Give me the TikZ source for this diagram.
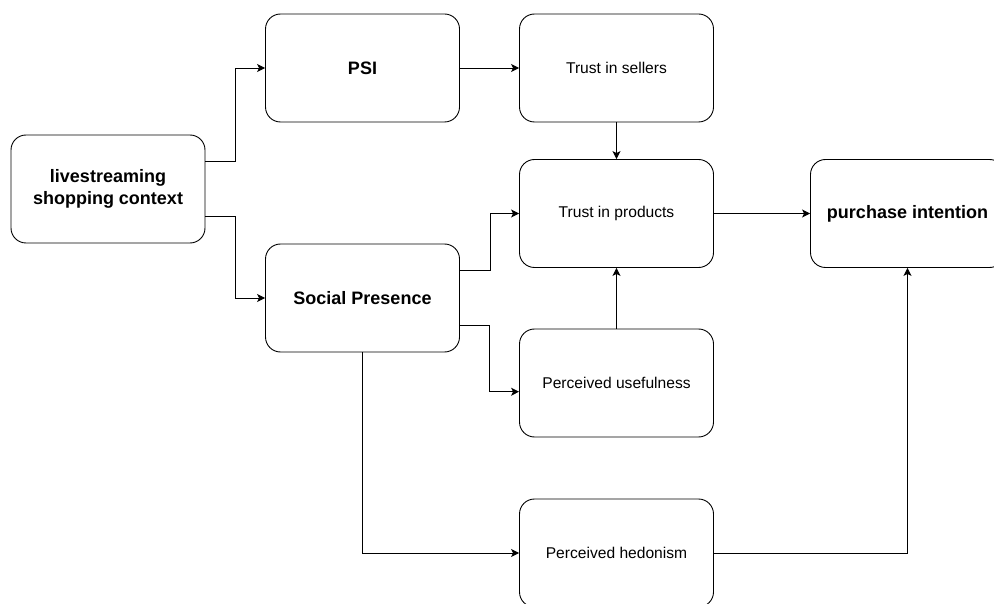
\documentclass[tikz,border=0pt]{standalone}
\usepackage{fontspec}
\setmainfont{Liberation Sans}
\usetikzlibrary{positioning, calc, arrows.meta}

\begin{document}
\begin{tikzpicture}[
    x=1pt, y=-1pt,
    line width=0.9pt,
    construct/.style={rectangle, draw, minimum width=194pt, minimum height=108pt, inner sep=0pt, rounded corners=15pt, align=center},
    bigbox/.style={construct, font=\bfseries\fontsize{18}{22}\selectfont},
    smallbox/.style={construct, font=\fontsize{15.6}{18}\selectfont},
    link/.style={-{Stealth[length=8pt, width=8pt, inset=2pt]}}
]
    \clip (0,0) rectangle (994,604);

    % Context
    \node[bigbox] (context) at (108, 189) {livestreaming\\shopping context};

    % Constructs
    \node[bigbox] (psi) at (362.5, 68) {PSI};
    \node[bigbox] (social) at (362.5, 298) {Social Presence};
    \node[smallbox] (sellers) at (616.5, 68) {Trust in sellers};
    \node[smallbox] (products) at (616.5, 213.5) {Trust in products};
    \node[smallbox] (useful) at (616.5, 383) {Perceived usefulness};
    \node[smallbox] (hedonism) at (616.5, 553) {Perceived hedonism};
    \node[bigbox] (intention) at (907.5, 213.5) {purchase intention};

    % Connections
    \draw[link] ($(context.north east)!.25!(context.south east)$) -- ++(30,0) |- (psi.west);
    \draw[link] ($(context.north east)!.75!(context.south east)$) -- ++(30,0) |- (social.west);
    \draw[link] (psi) -- (sellers);
    \draw[link] (sellers) -- (products);
    \draw[link] ($(social.north east)!.25!(social.south east)$) -- ++(30,0) |- (products.west);
    \draw[link] ($(social.north east)!.75!(social.south east)$) -- ++(29,0) |- ($(useful.north west)!.58!(useful.south west)$);
    \draw[link] (useful) -- (products);
    \draw[link] (social.south) |- (hedonism.west);
    \draw[link] (products) -- (intention);
    \draw[link] (hedonism.east) -| (intention.south);
\end{tikzpicture}
\end{document}
